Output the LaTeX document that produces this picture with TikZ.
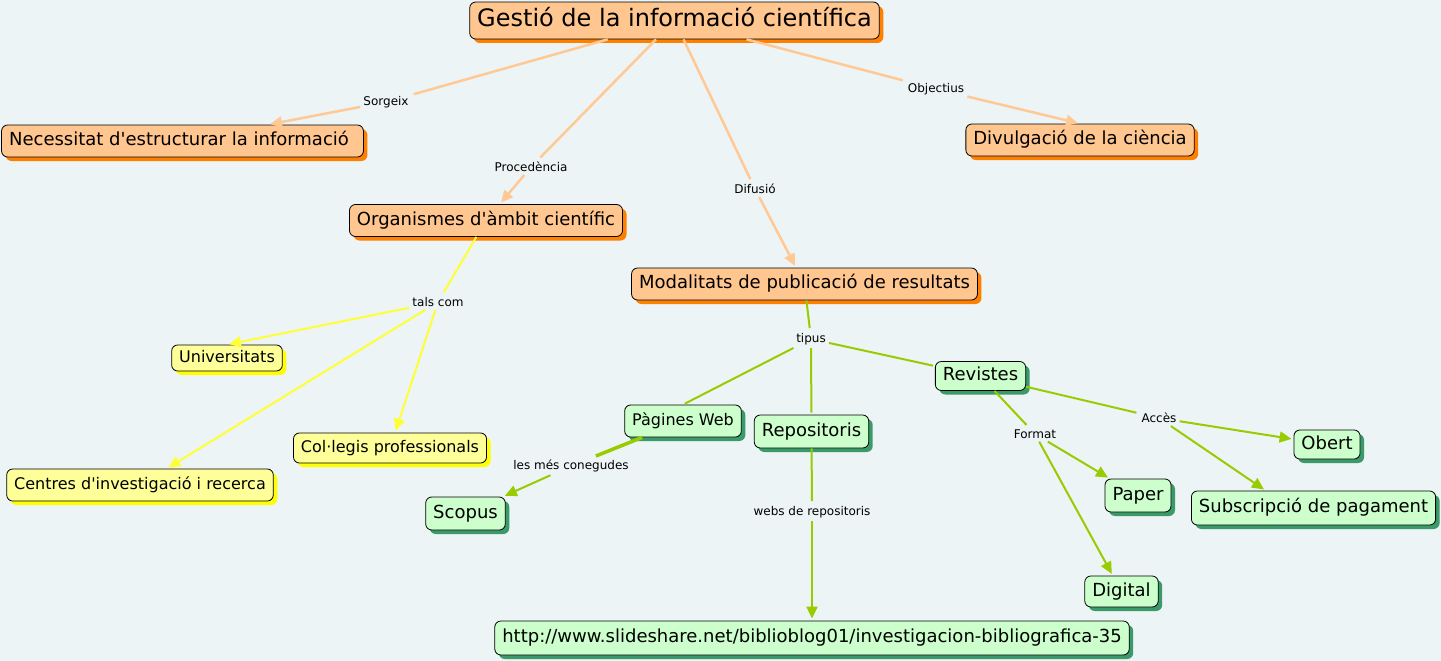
\documentclass[tikz,border=0pt]{standalone}
\usepackage{fontspec}
\setmainfont{DejaVu Sans}
\usetikzlibrary{arrows.meta,shadows,positioning}
\definecolor{mapbg}{HTML}{EDF4F6}
\definecolor{orangefill}{HTML}{FFC68F}
\definecolor{orangeshade}{HTML}{FF7F00}
\definecolor{orangeline}{HTML}{FFC996}
\definecolor{yellowfill}{HTML}{FFFF99}
\definecolor{yellowshade}{HTML}{FFFF00}
\definecolor{yellowline}{HTML}{FFFF33}
\definecolor{greenfill}{HTML}{CCFFCC}
\definecolor{greenshade}{HTML}{3A9A6A}
\definecolor{greenline}{HTML}{99CC00}
\tikzstyle{concept}=[rectangle,rounded corners=6pt,draw=black,line width=0.8pt,
  inner xsep=7.5pt,inner ysep=0pt,text height=13pt,text depth=4pt,
  minimum height=32pt,font=\fontsize{18}{20}\selectfont]
\tikzstyle{small}=[text height=11.5pt,text depth=3.5pt,font=\fontsize{16}{18}\selectfont]
\tikzstyle{orangebox}=[concept,fill=orangefill,
  drop shadow={shadow xshift=4pt,shadow yshift=-4pt,fill=orangeshade,opacity=1}]
\tikzstyle{yellowbox}=[concept,small,fill=yellowfill,
  drop shadow={shadow xshift=4pt,shadow yshift=-4pt,fill=yellowshade,opacity=1}]
\tikzstyle{greenbox}=[concept,fill=greenfill,
  drop shadow={shadow xshift=4pt,shadow yshift=-4pt,fill=greenshade,opacity=1}]
\tikzstyle{linklabel}=[inner sep=3pt,font=\fontsize{12}{14}\selectfont]
\tikzstyle{orangelink}=[draw=orangeline,line width=2.5pt]
\tikzstyle{yellowlink}=[draw=yellowline,line width=2pt]
\tikzstyle{greenlink}=[draw=greenline,line width=2pt]
\begin{document}
\begin{tikzpicture}[x=1pt,y=-1pt,>={Triangle[length=12pt,width=11pt]},shorten >=2pt]
    \useasboundingbox (0,0) rectangle (1441,661);
    \fill[mapbg] (0,0) rectangle (1441,661);

    % concepts
    \node[orangebox,minimum height=37pt,text height=17pt,text depth=5pt,
      font=\fontsize{24}{26}\selectfont] (title) at (674.5,20.5) {Gestió de la informació científica};
    \node[orangebox,align=left] (necess) at (182.5,141) {Necessitat d\textquotesingle estructurar la informació\hspace{7pt}};
    \node[orangebox] (divulg) at (1080,140) {Divulgació de la ciència};
    \node[orangebox] (organ) at (486,220.5) {Organismes d\textquotesingle àmbit científic};
    \node[orangebox] (modal) at (804.5,284) {Modalitats de publicació de resultats};

    \node[yellowbox,minimum height=26pt] (univ) at (227,358) {Universitats};
    \node[yellowbox,minimum height=30pt] (colleg) at (390,448) {Col·legis professionals};
    \node[yellowbox] (centres) at (140,485) {Centres d\textquotesingle investigació i recerca};

    \node[greenbox,minimum height=29pt] (revist) at (980.5,376) {Revistes};
    \node[greenbox,small,minimum height=32pt] (pagines) at (683,421) {Pàgines Web};
    \node[greenbox,minimum height=33pt] (repos) at (811.5,431.5) {Repositoris};
    \node[greenbox,minimum height=29pt] (obert) at (1327,444.5) {Obert};
    \node[greenbox,minimum height=33pt] (paper) at (1138,495.5) {Paper};
    \node[greenbox,minimum height=34pt] (subscr) at (1313.5,508) {Subscripció de pagament};
    \node[greenbox,minimum height=33pt] (scopus) at (465.5,513.5) {Scopus};
    \node[greenbox,minimum height=31pt] (digital) at (1121.5,591.5) {Digital};
    \node[greenbox,minimum height=34pt] (url) at (812,638) {http://www.slideshare.net/biblioblog01/investigacion-bibliografica-35};

    % linking phrases
    \node[linklabel] (sorgeix) at (386,102) {Sorgeix};
    \node[linklabel] (proced) at (531,167) {Procedència};
    \node[linklabel] (difus) at (755,189) {Difusió};
    \node[linklabel] (object) at (936,89) {Objectius};
    \node[linklabel] (talscom) at (438,302) {tals com};
    \node[linklabel] (tipus) at (811,339) {tipus};
    \node[linklabel] (lesmes) at (571,466) {les més conegudes};
    \node[linklabel] (webs) at (812,512) {webs de repositoris};
    \node[linklabel] (format) at (1035,434) {Format};
    \node[linklabel] (acces) at (1159,418) {Accès};

    % connections
    \draw[orangelink] (title) -- (sorgeix);
    \draw[orangelink,->] (sorgeix) -- (necess);
    \draw[orangelink] (title) -- (proced);
    \draw[orangelink,->] (proced) -- (organ);
    \draw[orangelink] (title) -- (difus);
    \draw[orangelink,->] (difus) -- (modal);
    \draw[orangelink] (title) -- (object);
    \draw[orangelink,->] (object) -- (divulg.north);

    \draw[yellowlink] (organ) -- (talscom);
    \draw[yellowlink,->] (talscom) -- (univ.north);
    \draw[yellowlink,->] (talscom) -- (centres);
    \draw[yellowlink,->] (talscom) -- (colleg);

    \draw[greenlink] (modal) -- (tipus);
    \draw[greenlink] (tipus) -- (pagines.north);
    \draw[greenlink] (tipus) -- (repos);
    \draw[greenlink] (tipus) -- (revist);
    \draw[greenlink,line width=3.5pt] (pagines) -- (lesmes);
    \draw[greenlink,->] (lesmes) -- (scopus);
    \draw[greenlink] (repos) -- (webs);
    \draw[greenlink,->] (webs) -- (url);
    \draw[greenlink] (revist) -- (format);
    \draw[greenlink,->] (format) -- (paper);
    \draw[greenlink,->] (format) -- (digital);
    \draw[greenlink] (revist) -- (acces);
    \draw[greenlink,->] (acces) -- (obert);
    \draw[greenlink,->] (acces) -- (subscr.160);
\end{tikzpicture}
\end{document}
